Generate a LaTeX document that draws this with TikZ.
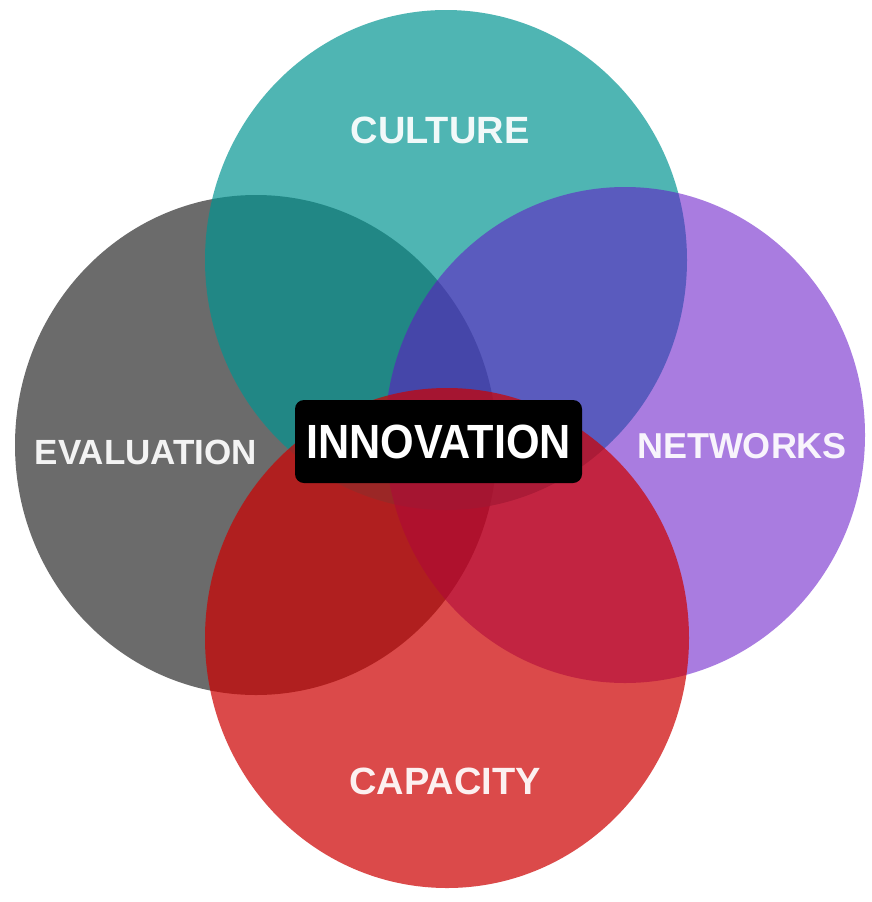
\documentclass[tikz,border=0pt]{standalone}
\usepackage{fontspec}
\setmainfont{Liberation Sans}
\usepackage{xcolor}
\usetikzlibrary{shapes.geometric}

\definecolor{evalgray}{RGB}{107,107,107}
\definecolor{cultureteal}{RGB}{0,149,146}
\definecolor{netpurple}{RGB}{100,18,200}
\definecolor{capred}{RGB}{205,1,0}

\begin{document}
\begin{tikzpicture}[x=1pt, y=-1pt,
    venn/.style={ellipse, draw=none, inner sep=0pt, minimum width=482pt, minimum height=500pt},
    areatext/.style={font=\bfseries\fontsize{38}{38}\selectfont, text=white, text opacity=0.92, inner sep=0pt},
    core/.style={rectangle, fill=black, rounded corners=9pt, minimum width=287pt, minimum height=83pt, inner sep=0pt, text=white, font=\bfseries\fontsize{48}{48}\selectfont}
]

% page
\fill[white] (0,0) rectangle (871,902);
\useasboundingbox (0,0) rectangle (871,902);

% circles
\node[venn, fill=evalgray] (evaluation) at (256, 445) {};
\node[venn, fill=cultureteal, fill opacity=0.69] (culture) at (446, 260) {};
\node[venn, fill=netpurple, fill opacity=0.55, minimum width=480pt, minimum height=496pt] (networks) at (625, 435) {};
\node[venn, fill=capred, fill opacity=0.71, minimum width=484pt] (capacity) at (447, 638) {};

% labels
\node[areatext] (culturetext) at (440, 130) {CULTURE};
\node[areatext] (capacitytext) at (445, 781) {CAPACITY};
\node[areatext, font=\bfseries\fontsize{35}{35}\selectfont] (evaltext) at (146, 452) {EVALUATION};
\node[areatext, font=\bfseries\fontsize{36}{36}\selectfont] (nettext) at (742, 446) {NETWORKS};

\node[core] (innovation) at (438.5, 441.5) {\scalebox{0.9}[1]{INNOVATION}};

\end{tikzpicture}
\end{document}
